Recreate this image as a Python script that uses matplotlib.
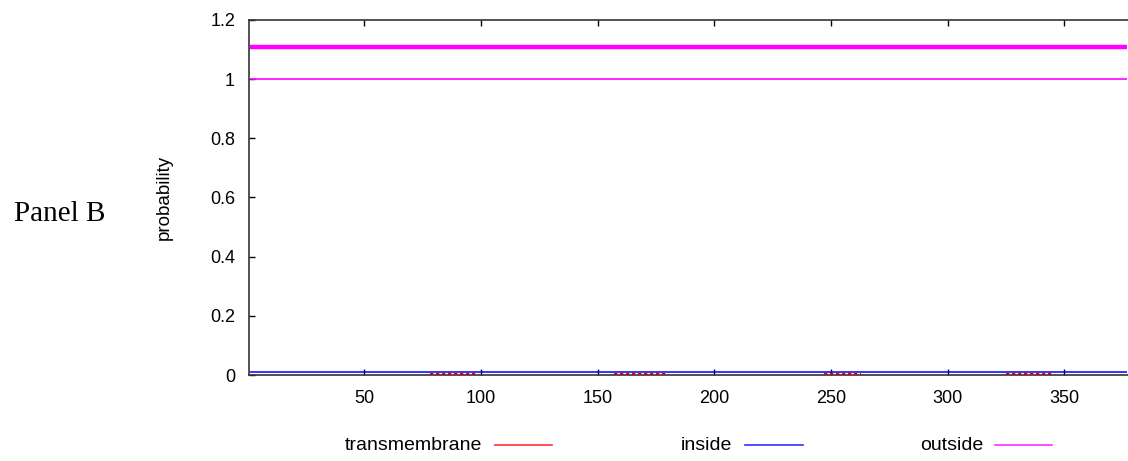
import matplotlib
matplotlib.use("Agg")
import matplotlib.pyplot as plt
from matplotlib.lines import Line2D

# sequence and per-residue probabilities
seq_len = 377
outside_prob = 1.0
inside_prob = 0.01
topology_level = 1.11          # predicted topology bar (all outside)
tm_segments = [(78, 98), (157, 180), (247, 263), (325, 345)]
tm_prob = 0.003

x_ticks = [50, 100, 150, 200, 250, 300, 350]
y_ticks = [0, 0.2, 0.4, 0.6, 0.8, 1, 1.2]
y_tick_labels = ["0", "0.2", "0.4", "0.6", "0.8", "1", "1.2"]

plt.rcParams["font.family"] = "Liberation Sans"

W, H = 1128, 461
fig = plt.figure(figsize=(W / 100, H / 100), dpi=100)
ax = fig.add_axes([249 / W, 86 / H, 1 - 249 / W, 355 / H])

ax.hlines(topology_level, 1, seq_len, color="#ff00ff", linewidth=3.2)
ax.hlines(outside_prob, 1, seq_len, color="#ff00ff", linewidth=1.2)
ax.hlines(inside_prob, 1, seq_len, color="#0000ff", linewidth=1.1)
for start, end in tm_segments:
    ax.hlines(tm_prob, start, end, color="#e00000", linewidth=1.6,
              linestyles=(0, (1.5, 1.2)), zorder=3)

ax.set_xlim(0.5, 377.3)
ax.set_ylim(0, 1.2)
ax.set_xticks(x_ticks)
ax.set_yticks(y_ticks)
ax.set_yticklabels(y_tick_labels)
ax.tick_params(direction="in", length=4, width=1, top=True, right=False,
               labelsize=13, colors="black")
ax.tick_params(axis="x", pad=11)
ax.tick_params(axis="y", pad=10)
for side in ["left", "top", "bottom"]:
    ax.spines[side].set_color("#333333")
    ax.spines[side].set_linewidth(1.2)
ax.spines["right"].set_visible(False)
ax.set_ylabel("probability", fontsize=13.5)
ax.yaxis.set_label_coords((173 - 249) / (W - 249), 0.5)

# key below the plot
key_y = 1 - 445 / H
key_items = [("transmembrane", "#ff3030", 482, 495, 552),
             ("inside", "#3030ff", 732, 745, 803),
             ("outside", "#ff30ff", 983, 995, 1052)]
for label, color, text_right, x0, x1 in key_items:
    fig.text(text_right / W, key_y, label, ha="right", va="center",
             fontsize=14)
    fig.add_artist(Line2D([x0 / W, x1 / W], [key_y, key_y],
                          color=color, linewidth=1.2))

fig.text(60 / W, 1 - 214 / H, "Panel B", ha="center", va="center",
         fontsize=21, family="Liberation Serif")

fig.savefig("out.png", dpi=100)
